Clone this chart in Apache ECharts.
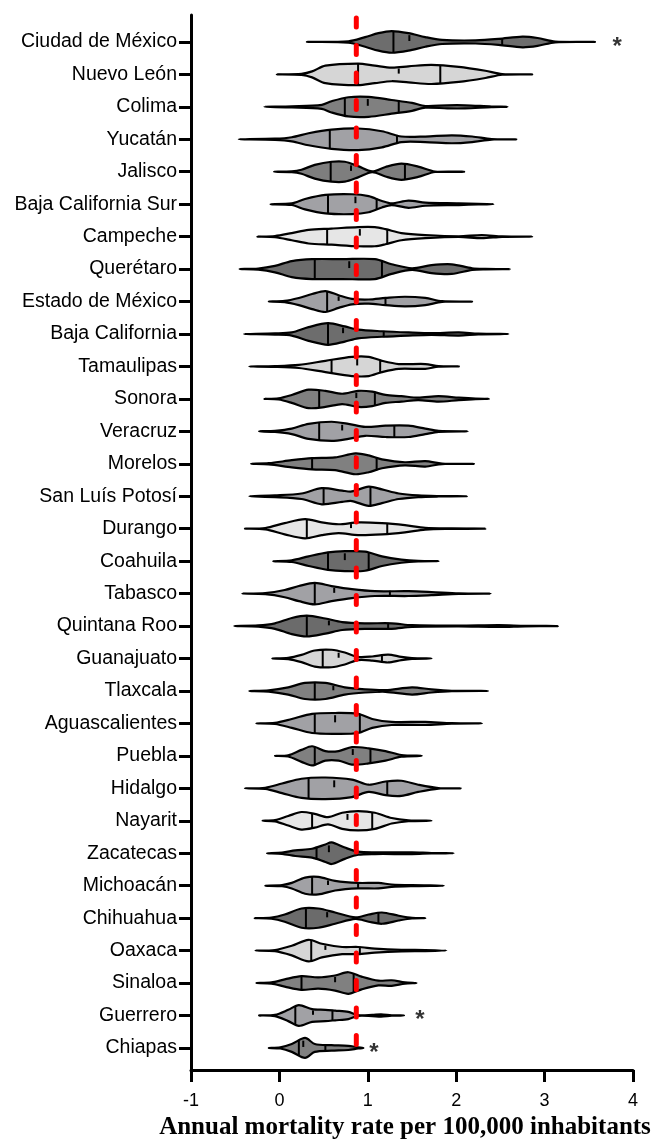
<!DOCTYPE html>
<html>
<head>
<meta charset="utf-8">
<script src="https://cdn.jsdelivr.net/npm/echarts@6/dist/echarts.min.js"></script>
<style>
  html, body { margin: 0; padding: 0; background: #fff; }
  #chart { width: 665px; height: 1141px; }
</style>
</head>
<body>
<div id="chart"></div>
<script>
const states = [
  "Ciudad de México", "Nuevo León", "Colima", "Yucatán", "Jalisco",
  "Baja California Sur", "Campeche", "Querétaro", "Estado de México",
  "Baja California", "Tamaulipas", "Sonora", "Veracruz", "Morelos",
  "San Luís Potosí", "Durango", "Coahuila", "Tabasco", "Quintana Roo",
  "Guanajuato", "Tlaxcala", "Aguascalientes", "Puebla", "Hidalgo",
  "Nayarit", "Zacatecas", "Michoacán", "Chihuahua", "Oaxaca", "Sinaloa",
  "Guerrero", "Chiapas",
];

const q1 = [1.29, 0.89, 0.74, 0.57, 0.58, 0.55, 0.54, 0.4, 0.54, 0.55, 0.59, 0.45,
  0.45, 0.37, 0.5, 0.31, 0.55, 0.4, 0.31, 0.49, 0.4, 0.4, 0.4, 0.33,
  0.37, 0.42, 0.37, 0.3, 0.36, 0.25, 0.18, 0.22];
const medians = [1.47, 1.35, 1.0, 0.88, 0.81, 0.86, 0.91, 0.79, 0.67, 0.72, 0.88, 0.87,
  0.71, 0.86, 0.88, 0.81, 0.74, 0.62, 0.56, 0.67, 0.61, 0.63, 0.83, 0.62,
  0.77, 0.56, 0.55, 0.54, 0.52, 0.63, 0.38, 0.27];
const q3 = [2.52, 1.82, 1.35, 1.33, 1.42, 1.1, 1.22, 1.16, 1.2, 1.18, 1.14, 1.08,
  1.3, 1.1, 1.03, 1.22, 1.01, 1.25, 1.23, 1.16, 1.13, 0.91, 1.03, 1.22,
  1.05, 0.88, 0.89, 1.12, 0.91, 0.84, 0.6, 0.52];

// violin outlines: [rate, relative density] from min to max of each state
const violinShapes = [
  [[0.31,0],[0.78,0.5],[0.97,4],[1.12,7.3],[1.27,9],[1.46,7.3],[1.65,4],[1.84,1.7],[2.22,1.3],[2.48,2.5],[2.75,4.5],[2.92,3.3],[3.12,0.3],[3.57,0]],
  [[-0.03,0],[0.25,0.5],[0.37,2.5],[0.52,7.3],[0.89,9],[1.08,7.3],[1.27,5.7],[1.46,6.7],[1.72,8],[2.03,6.3],[2.33,3],[2.52,0.3],[2.86,0]],
  [[-0.17,0],[0.14,0.5],[0.48,1.7],[0.59,4.7],[0.78,8],[1.01,8.3],[1.27,5.7],[1.5,3.3],[1.65,0.7],[1.9,1.3],[2.1,1.3],[2.4,0.3],[2.58,0]],
  [[-0.46,0],[-0.05,0.5],[0.14,1.7],[0.33,5],[0.59,8],[0.89,9],[1.16,6.7],[1.38,2.3],[1.65,2.3],[1.95,3.3],[2.18,2.3],[2.4,0.2],[2.68,0]],
  [[-0.06,0],[0.14,0.3],[0.25,1.7],[0.4,5.7],[0.59,8.3],[0.74,8.3],[0.89,4.7],[1.05,0.3],[1.2,4],[1.38,6.7],[1.57,4.3],[1.76,0.2],[2.09,0]],
  [[-0.1,0],[0.14,0.7],[0.29,4.3],[0.52,7.7],[0.82,8.3],[1.01,6.7],[1.16,2.7],[1.27,0.7],[1.46,3],[1.65,1.3],[2.03,0.7],[2.25,0.2],[2.42,0]],
  [[-0.25,0],[-0.05,0.5],[0.14,3],[0.33,5.7],[0.59,6.7],[0.89,8],[1.08,8],[1.2,6.3],[1.38,3],[1.65,1.3],[2.03,0.3],[2.29,1.3],[2.52,0.2],[2.86,0]],
  [[-0.45,0],[-0.24,0.5],[-0.05,2.7],[0.14,6.7],[0.37,8.3],[0.71,8.3],[1.08,8.3],[1.27,4],[1.5,0.7],[1.72,3.3],[1.95,4],[2.18,0.7],[2.33,0.2],[2.61,0]],
  [[-0.12,0],[0.06,0.5],[0.22,3],[0.37,6.3],[0.52,8.7],[0.67,5.3],[0.82,2.3],[1.01,1.7],[1.2,3],[1.42,4],[1.65,3],[1.84,0.3],[2.18,0]],
  [[-0.4,0],[-0.05,0.5],[0.14,1.3],[0.33,5.7],[0.55,9],[0.74,6.3],[0.89,3.7],[1.16,2.3],[1.46,1.3],[1.72,0.7],[2.03,1.3],[2.25,0.3],[2.59,0]],
  [[-0.34,0],[-0.05,0.3],[0.22,1.3],[0.52,4.7],[0.82,8],[1.01,8],[1.16,4.7],[1.35,2],[1.65,2],[1.8,0.2],[2.03,0]],
  [[-0.17,0],[-0.01,0.5],[0.14,3.3],[0.33,7.7],[0.52,6.7],[0.71,4.3],[0.89,6.7],[1.05,6],[1.2,3.3],[1.38,2.3],[1.57,1],[1.8,2.3],[2.03,1],[2.22,0.2],[2.37,0]],
  [[-0.23,0],[-0.05,0.5],[0.14,2.3],[0.33,6.3],[0.59,8],[0.78,6.3],[0.97,3.7],[1.2,4.7],[1.46,4.7],[1.65,2.3],[1.8,0.4],[2.13,0]],
  [[-0.32,0],[-0.12,0.5],[0.14,3],[0.37,4.7],[0.63,5.3],[0.86,8.7],[1.01,7],[1.16,3.7],[1.42,1.3],[1.65,2.3],[1.84,0.2],[2.2,0]],
  [[-0.34,0],[-0.05,0.7],[0.25,2.3],[0.48,6.7],[0.71,4.7],[0.82,4],[1.01,8],[1.16,5.7],[1.35,2.3],[1.57,0.7],[1.8,0.2],[2.12,0]],
  [[-0.39,0],[-0.16,0.5],[0.06,4.7],[0.29,8],[0.48,5.3],[0.67,3.7],[0.89,5.3],[1.16,4.7],[1.42,3],[1.65,0.7],[1.95,0.2],[2.33,0]],
  [[-0.07,0],[0.14,0.7],[0.33,4],[0.55,7.3],[0.74,8.3],[0.97,8],[1.16,4],[1.38,1.3],[1.57,0.2],[1.8,0]],
  [[-0.42,0],[-0.16,0.5],[0.06,3],[0.22,6.3],[0.4,9],[0.59,6.3],[0.82,3.7],[1.08,2],[1.46,2],[1.72,1.3],[2.03,0.2],[2.39,0]],
  [[-0.51,0],[-0.24,0.5],[-0.05,2.3],[0.14,6.7],[0.31,8.7],[0.52,6.3],[0.71,3.3],[0.97,2.3],[1.27,2.3],[1.5,0.7],[2.03,0.3],[2.48,0.7],[2.78,0.2],[3.15,0]],
  [[-0.08,0],[0.1,0.5],[0.25,3],[0.4,6.7],[0.59,7.3],[0.74,5],[0.89,1.3],[1.05,1.7],[1.23,3.3],[1.38,1.3],[1.5,0.3],[1.72,0]],
  [[-0.34,0],[-0.12,0.5],[0.1,3],[0.29,6.7],[0.52,6.7],[0.74,3],[0.97,1.3],[1.2,0.7],[1.5,3],[1.72,1.3],[1.95,0.2],[2.36,0]],
  [[-0.26,0],[-0.05,0.5],[0.14,3.7],[0.37,8],[0.63,8.7],[0.89,8],[1.05,3.7],[1.27,1.3],[1.65,1.3],[1.95,0.2],[2.29,0]],
  [[-0.05,0],[0.1,0.5],[0.25,5],[0.37,8],[0.52,4],[0.67,4],[0.82,7.3],[1.01,6.3],[1.2,4],[1.38,0.7],[1.61,0]],
  [[-0.39,0],[-0.16,0.5],[0.03,4],[0.25,8],[0.52,9],[0.82,7.3],[1.01,3],[1.2,5.7],[1.38,6.3],[1.57,3],[1.8,0.2],[2.05,0]],
  [[-0.19,0],[-0.05,0.5],[0.1,4],[0.25,7.3],[0.4,5.7],[0.55,3],[0.71,6.7],[0.89,8],[1.08,6.7],[1.27,2.3],[1.46,0.4],[1.72,0]],
  [[-0.14,0],[0.03,0.5],[0.18,2.3],[0.37,3.7],[0.52,7.3],[0.59,9],[0.74,4.7],[0.89,1.3],[1.08,0.7],[1.5,0.7],[1.72,0.2],[1.97,0]],
  [[-0.16,0],[0.03,0.5],[0.14,2.3],[0.29,6.7],[0.44,7.3],[0.63,4],[0.89,2.3],[1.12,2.3],[1.27,1],[1.5,0.4],[1.86,0]],
  [[-0.28,0],[-0.09,0.5],[0.06,3],[0.25,8],[0.44,8],[0.63,4.7],[0.86,0.7],[1.01,3],[1.16,4.7],[1.35,2],[1.5,0.3],[1.65,0]],
  [[-0.27,0],[-0.05,0.5],[0.14,4],[0.33,9],[0.48,5.7],[0.71,3],[0.89,3],[1.08,1.7],[1.38,0.7],[1.65,0.5],[1.89,0]],
  [[-0.26,0],[-0.09,0.5],[0.06,3],[0.25,5.7],[0.44,4.7],[0.63,6.3],[0.78,9],[0.93,5.3],[1.12,2],[1.27,2.3],[1.42,0.5],[1.55,0]],
  [[-0.23,0],[-0.05,0.5],[0.1,4.7],[0.22,8.7],[0.37,5.3],[0.52,4.7],[0.63,4],[0.78,3],[0.89,0.3],[1.05,0.5],[1.15,1],[1.27,0.2],[1.41,0]],
  [[-0.12,0],[0.01,0.5],[0.14,3.3],[0.29,8.3],[0.4,3.3],[0.59,2.3],[0.78,1.7],[0.89,0.5],[0.95,0]],
];

const nationalRate = 0.87;
const starStates = [0, 30, 31];
const starX = [3.82, 1.59, 1.07];

// fill shade of each violin
const fills = [
  "#6d6d6d", "#d6d6d6", "#808080", "#a1a1a5", "#7e7e7e", "#a1a1a5",
  "#e6e6e6", "#6c6c6c", "#a1a1a5", "#6d6d6d", "#d6d6d6", "#808080",
  "#a1a1a5", "#808080", "#a1a1a5", "#e6e6e6", "#6b6b6b", "#a1a1a5",
  "#6b6b6b", "#d6d6d6", "#808080", "#a1a1a5", "#808080", "#a1a1a5",
  "#e6e6e6", "#6b6b6b", "#a1a1a5", "#6b6b6b", "#d6d6d6", "#808080",
  "#a1a1a5", "#808080",
];

const violinScale = 1.2 / 32.45; // density unit as a share of one row
const rowIndex = states.map((_, i) => i);

function densityAt(knots, x) {
  for (let k = 1; k < knots.length; k++) {
    const [x0, d0] = knots[k - 1];
    const [x1, d1] = knots[k];
    if (x <= x1) return d0 + ((d1 - d0) * (x - x0)) / (x1 - x0);
  }
  return 0;
}

function renderViolin(params, api) {
  const i = api.value(1);
  const knots = violinShapes[i];
  const k = Math.abs(api.size([0, 1])[1]) * violinScale;
  const upper = knots.map(([x, d]) => {
    const p = api.coord([x, i]);
    return [p[0], p[1] - d * k];
  });
  const lower = knots.slice(1, -1).reverse().map(([x, d]) => {
    const p = api.coord([x, i]);
    return [p[0], p[1] + d * k];
  });
  const mark = (x, f0, f1) => {
    const p = api.coord([x, i]);
    const h = densityAt(knots, x) * k + 0.5;
    return {
      type: "line",
      shape: { x1: p[0], y1: p[1] - h * f0, x2: p[0], y2: p[1] + h * f1 },
      style: { stroke: "#000", lineWidth: 2 },
    };
  };
  return {
    type: "group",
    children: [
      {
        type: "polygon",
        shape: { points: upper.concat(lower), smooth: 0.3 },
        style: { fill: fills[i], stroke: "#000", lineWidth: 2.2, lineJoin: "round" },
      },
      mark(q1[i], 1, 1),
      mark(q3[i], 1, 1),
      mark(medians[i], 0.75, -0.1),
    ],
  };
}

const chart = echarts.init(document.getElementById("chart"));
chart.setOption({
  animation: false,
  grid: { left: 191, right: 32, top: 15, bottom: 71, outerBoundsMode: "none" },
  xAxis: {
    type: "value",
    min: -1,
    max: 4,
    interval: 1,
    splitLine: { show: false },
    axisLine: { onZero: false, lineStyle: { color: "#000", width: 3 } },
    axisTick: { show: true, length: 12, lineStyle: { color: "#000", width: 3 } },
    axisLabel: { color: "#000", fontSize: 18, fontFamily: "Liberation Sans", margin: 22 },
    name: "Annual mortality rate per 100,000 inhabitants",
    nameLocation: "middle",
    nameGap: 45,
    nameTextStyle: {
      color: "#000",
      fontSize: 25,
      fontWeight: "bold",
      fontFamily: "Liberation Serif",
      padding: [0, 14, 0, 0],
    },
  },
  yAxis: {
    type: "value",
    inverse: true,
    min: -0.83,
    max: 31.68,
    splitLine: { show: false },
    axisLine: { show: true, onZero: false, lineStyle: { color: "#000", width: 3 } },
    axisTick: { show: true, length: 12, customValues: rowIndex, lineStyle: { color: "#000", width: 3 } },
    axisLabel: {
      customValues: rowIndex,
      formatter: (v) => states[v],
      color: "#000",
      fontSize: 19.5,
      fontFamily: "Liberation Sans",
      margin: 14,
    },
  },
  series: [
    {
      type: "custom",
      renderItem: renderViolin,
      data: states.map((_, i) => [medians[i], i]),
      encode: { x: 0, y: 1 },
      clip: false,
      z: 2,
    },
    {
      type: "line",
      data: [[nationalRate, -0.74], [nationalRate, 31.25]],
      symbol: "none",
      lineStyle: { color: "#ff0000", width: 5, type: [9, 18.5], cap: "round" },
      z: 3,
    },
    {
      type: "scatter",
      data: starX.map((x, k) => [x, starStates[k]]),
      symbolSize: 2,
      itemStyle: { color: "rgba(0,0,0,0)" },
      label: {
        show: true,
        position: "inside",
        formatter: "*",
        color: "#000",
        fontSize: 24,
        fontWeight: "bold",
        fontFamily: "Liberation Sans",
        offset: [0, 5],
      },
      z: 4,
    },
  ],
});
</script>
</body>
</html>
